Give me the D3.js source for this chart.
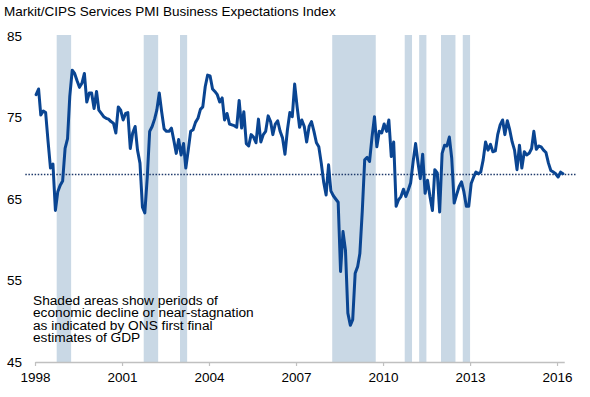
<!DOCTYPE html>
<html>
<head>
<meta charset="utf-8">
<script src="https://cdn.jsdelivr.net/npm/d3@7"></script>
<style>
	html, body { margin: 0; padding: 0; background: #fff; }
	svg { display: block; font-family: "Liberation Sans", Arial, sans-serif; }
</style>
</head>
<body>
<svg id="chart"></svg>
<script>
// monthly index values, Jan 1998 .. Mar 2016 (one row per year)
const pmi = [
	77.8, 78.5, 75.3, 75.8, 75.6, 72.0, 68.8, 69.3, 63.6, 65.9, 66.7, 67.2, // 1998
	71.2, 72.4, 77.6, 80.8, 80.4, 79.5, 78.7, 79.2, 80.4, 76.9, 78.0, 78.0, // 1999
	76.1, 78.2, 75.9, 75.5, 75.1, 74.9, 74.8, 74.5, 74.3, 73.1, 76.3, 75.9, // 2000
	74.7, 75.5, 75.6, 71.2, 73.1, 73.9, 71.0, 69.4, 64.0, 63.3, 67.7, 73.3, // 2001
	73.9, 74.8, 75.9, 78.0, 75.7, 73.6, 73.3, 73.3, 73.7, 72.2, 70.6, 72.3, // 2002
	70.4, 71.8, 68.8, 71.0, 73.3, 73.5, 74.4, 74.9, 76.0, 76.3, 78.8, 80.2, // 2003
	80.1, 78.5, 78.2, 77.8, 76.9, 77.4, 74.7, 75.5, 74.2, 74.1, 74.0, 73.8, // 2004
	77.1, 73.7, 75.7, 71.8, 71.5, 72.9, 72.6, 71.9, 74.8, 72.0, 72.9, 73.3, // 2005
	75.2, 74.5, 72.9, 74.2, 74.6, 73.3, 72.5, 70.5, 73.5, 75.6, 75.1, 79.1, // 2006
	76.3, 73.8, 74.7, 73.9, 72.0, 73.9, 74.5, 73.3, 71.9, 71.4, 69.4, 67.1, // 2007
	65.5, 69.2, 66.0, 65.4, 65.0, 64.6, 56.1, 61.0, 58.7, 51.0, 49.5, 50.2, // 2008
	55.9, 56.7, 58.3, 63.6, 69.8, 70.1, 69.6, 72.6, 75.1, 71.4, 73.3, 73.1, // 2009
	74.2, 73.3, 74.7, 70.2, 72.0, 64.1, 64.9, 65.3, 66.2, 65.3, 66.1, 67.0, // 2010
	69.6, 71.8, 69.6, 67.5, 70.5, 65.7, 67.3, 65.3, 63.6, 68.6, 68.2, 63.4, // 2011
	70.6, 71.6, 71.5, 72.6, 70.0, 64.5, 65.5, 66.5, 67.1, 65.9, 64.1, 64.1, // 2012
	66.9, 67.7, 68.3, 68.1, 68.3, 69.8, 72.0, 71.0, 71.7, 70.8, 70.9, 72.9, // 2013
	74.1, 74.7, 72.9, 74.6, 73.5, 72.0, 71.0, 68.6, 71.6, 68.8, 70.8, 70.4, // 2014
	70.6, 71.2, 73.3, 71.1, 71.5, 71.4, 71.0, 70.7, 69.4, 68.5, 68.3, 68.1, // 2015
	67.7, 68.3, 68.1                                                        // 2016
];
const startYear = 1998;

// periods of decline / near-stagnation (ONS first estimates), [year, month] start / end
const shadeStart = [[1998, 9], [2001, 9], [2003, 0], [2008, 3], [2010, 9], [2011, 3], [2012, 0], [2012, 9]];
const shadeEnd = [[1999, 3], [2002, 3], [2003, 3], [2009, 9], [2011, 0], [2011, 6], [2012, 6], [2013, 0]];

// long-run average line
const avgValue = 68;
const avgSpan = [[1997, 8], [2016, 8]];

const xTickYears = [1998, 2001, 2004, 2007, 2010, 2013, 2016];
const yTicks = [45, 55, 65, 75, 85];

const title = "Markit/CIPS Services PMI Business Expectations Index";
const note = [
	"Shaded areas show periods of",
	"economic decline or near-stagnation",
	"as indicated by ONS first final",
	"estimates of GDP"
];

const config = {
	target: "#chart",
	width: 590,
	height: 397,
	left: 35,
	right: 564.25,
	top: 36,
	bottom: 362,
	lineColor: "#0a4592",
	shadeColor: "#c9d8e5",
	axisColor: "#c0c0c0"
};

show();

/**
 * build scales and draw everything
 */
function show() {
	const svg = d3.select(config.target)
		.attr("width", config.width)
		.attr("height", config.height);

	const x = d3.scaleTime()
		.domain([new Date(1998, 0, 1), new Date(2016, 3, 1)])
		.range([config.left, config.right]);

	const y = d3.scaleLinear()
		.domain([45, 85])
		.range([config.bottom, config.top]);

	const series = pmi.map((v, i) => ({ date: new Date(startYear, i, 15), value: v }));

	drawShades(svg, x, y);
	drawAxes(svg, x, y);
	drawAverage(svg, x, y);
	drawLine(svg, x, y, series);
	drawTexts(svg);
}

/**
 * shaded recession bars
 */
function drawShades(svg, x, y) {
	const spans = shadeStart.map((s, i) => [new Date(s[0], s[1], 1), new Date(shadeEnd[i][0], shadeEnd[i][1], 1)]);

	svg.append("g")
		.selectAll("rect")
		.data(spans)
		.join("rect")
		.attr("x", d => x(d[0]))
		.attr("width", d => x(d[1]) - x(d[0]))
		.attr("y", y(85) - 1)
		.attr("height", y(45) - y(85) + 1)
		.attr("fill", config.shadeColor);
}

/**
 * x axis at bottom, y labels only on the left
 */
function drawAxes(svg, x, y) {
	const xAxis = d3.axisBottom(x)
		.tickValues(xTickYears.map(yr => new Date(yr, 0, 1)))
		.tickFormat(d3.timeFormat("%Y"))
		.tickSize(4)
		.tickSizeOuter(0)
		.tickPadding(6);

	svg.append("g")
		.attr("transform", `translate(0, ${config.bottom})`)
		.call(xAxis)
		.call(g => g.select(".domain").attr("stroke", config.axisColor).attr("stroke-width", 1.5))
		.call(g => g.selectAll(".tick line").attr("stroke", config.axisColor).attr("stroke-width", 1.2))
		.call(g => g.selectAll("text")
			.attr("font-size", "13.5px")
			.attr("font-family", "Liberation Sans, Arial, sans-serif")
			.attr("fill", "#000"));

	const yAxis = d3.axisLeft(y)
		.tickValues(yTicks)
		.tickSize(0)
		.tickPadding(0);

	svg.append("g")
		.attr("transform", `translate(22, 0)`)
		.call(yAxis)
		.call(g => g.select(".domain").remove())
		.call(g => g.selectAll("text")
			.attr("font-size", "13.5px")
			.attr("font-family", "Liberation Sans, Arial, sans-serif")
			.attr("fill", "#000"));
}

/**
 * dotted average line
 */
function drawAverage(svg, x, y) {
	svg.append("line")
		.attr("x1", x(new Date(avgSpan[0][0], avgSpan[0][1], 1)))
		.attr("x2", x(new Date(avgSpan[1][0], avgSpan[1][1], 1)))
		.attr("y1", y(avgValue))
		.attr("y2", y(avgValue))
		.attr("stroke", "#1f3a6b")
		.attr("stroke-width", 1.5)
		.attr("stroke-dasharray", "1.5,1.6");
}

/**
 * index line
 */
function drawLine(svg, x, y, data) {
	const line = d3.line()
		.x(d => x(d.date))
		.y(d => y(d.value));

	svg.append("path")
		.datum(data)
		.attr("fill", "none")
		.attr("stroke", config.lineColor)
		.attr("stroke-width", 3)
		.attr("stroke-linejoin", "round")
		.attr("stroke-linecap", "round")
		.attr("d", line);
}

/**
 * title and note
 */
function drawTexts(svg) {
	svg.append("text")
		.attr("x", 4)
		.attr("y", 16)
		.attr("font-size", "13.5px")
		.attr("fill", "#000")
		.text(title);

	svg.append("text")
		.attr("x", 33)
		.attr("y", 305)
		.attr("font-size", "13.7px")
		.attr("fill", "#000")
		.selectAll("tspan")
		.data(note)
		.join("tspan")
		.attr("x", 33)
		.attr("dy", (d, i) => i === 0 ? 0 : 12.4)
		.text(d => d);
}
</script>
</body>
</html>
